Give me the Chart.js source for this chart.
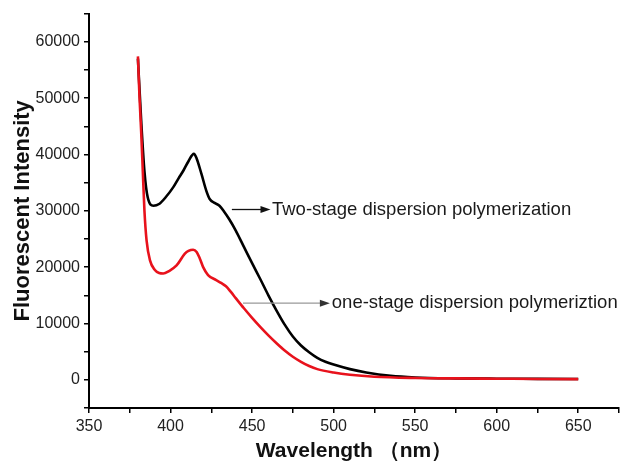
<!DOCTYPE html>
<html>
<head>
<meta charset="utf-8">
<script src="https://cdn.jsdelivr.net/npm/chart.js@4.4.1/dist/chart.umd.min.js"></script>
<style>
  html, body { margin: 0; padding: 0; background: #fff; }
  #wrap { width: 623px; height: 464px; position: relative; }
</style>
</head>
<body>
<div id="wrap"><canvas id="myChart" width="623" height="464"></canvas></div>
<script>
// two-stage dispersion polymerization (black)
var blackX = [380, 382, 384, 386, 389.5, 393, 397, 401.7, 405, 408, 411, 414.3, 416, 419, 422, 424, 427, 430, 433, 436, 440, 445, 450, 455, 460, 465, 470, 475, 480, 485, 490, 495, 500, 510, 520, 535, 550, 575, 600, 625, 650];
var blackY = [57000, 46000, 37000, 32400, 30900, 31200, 32400, 34200, 35800, 37200, 38800, 40100, 39300, 36500, 33500, 32100, 31400, 30900, 29800, 28500, 26500, 23600, 20700, 17900, 15000, 12300, 9800, 7700, 6100, 4900, 3900, 3200, 2700, 1900, 1300, 700, 420, 260, 200, 170, 150];

// one-stage dispersion polymeriztion (red)
var redX = [380, 381, 382, 383, 384, 385.3, 387.4, 390.4, 393, 395.5, 399, 403.7, 408.8, 411, 413.9, 416, 418, 420, 423, 428, 431, 434, 437, 440, 445, 450, 455, 460, 465, 470, 475, 480, 485, 490, 500, 510, 525, 550, 575, 600, 625, 650];
var redY = [57400, 50000, 44000, 37000, 30000, 24750, 21200, 19500, 18950, 18860, 19300, 20300, 22400, 22900, 23100, 22700, 21500, 20000, 18600, 17700, 17200, 16600, 15600, 14500, 12700, 11000, 9400, 7900, 6500, 5200, 4100, 3200, 2450, 1900, 1300, 900, 550, 330, 250, 200, 150, 130];

var xTickLabels = [350, 400, 450, 500, 550, 600, 650];
var yTickLabels = [0, 10000, 20000, 30000, 40000, 50000, 60000];

function toPoints(xs, ys) {
  return xs.map(function (v, i) { return { x: v, y: ys[i] }; });
}

// arrows + notes next to the curves
var notesPlugin = {
  id: 'notes',
  afterDatasetsDraw: function (chart) {
    var ctx = chart.ctx;
    var sx = chart.scales.x, sy = chart.scales.y;
    function arrow(x0, x1, y, lineColor, headColor) {
      ctx.save();
      ctx.strokeStyle = lineColor;
      ctx.lineWidth = 1.3;
      ctx.beginPath();
      ctx.moveTo(x0, y);
      ctx.lineTo(x1 - 8, y);
      ctx.stroke();
      ctx.fillStyle = headColor;
      ctx.beginPath();
      ctx.moveTo(x1, y);
      ctx.lineTo(x1 - 10, y - 3.5);
      ctx.lineTo(x1 - 10, y + 3.5);
      ctx.closePath();
      ctx.fill();
      ctx.restore();
    }
    var y1 = sy.getPixelForValue(30230);
    arrow(sx.getPixelForValue(437.6), sx.getPixelForValue(461.3), y1, '#111', '#111');
    var y2 = sy.getPixelForValue(13600);
    arrow(sx.getPixelForValue(444.4), sx.getPixelForValue(497.7), y2, '#999', '#333');
    ctx.save();
    ctx.fillStyle = '#1a1a1a';
    ctx.font = '18.5px "Liberation Sans", Arial, sans-serif';
    ctx.textBaseline = 'middle';
    ctx.textAlign = 'left';
    ctx.fillText('Two-stage dispersion polymerization', sx.getPixelForValue(462.2), y1);
    ctx.fillText('one-stage dispersion polymeriztion', sx.getPixelForValue(498.9), y2);
    ctx.restore();
  }
};

const data = {
  datasets: [{
    label: 'one-stage dispersion polymeriztion',
    data: toPoints(redX, redY),
    borderColor: 'rgb(232, 18, 28)',
    borderWidth: 2.6,
    pointRadius: 0,
    tension: 0.4,
    cubicInterpolationMode: 'monotone',
    order: 0
  }, {
    label: 'Two-stage dispersion polymerization',
    data: toPoints(blackX, blackY),
    borderColor: '#000',
    borderWidth: 2.6,
    pointRadius: 0,
    tension: 0.4,
    cubicInterpolationMode: 'monotone',
    order: 1
  }]
};

const tickFont = { family: '"Liberation Sans", Arial, sans-serif', size: 16 };

const config = {
  type: 'line',
  data: data,
  options: {
    responsive: false,
    animation: false,
    layout: { padding: { top: 13, right: 3, left: 0, bottom: 0 } },
    plugins: {
      legend: { display: false },
      tooltip: { enabled: false }
    },
    scales: {
      x: {
        type: 'linear',
        min: 350,
        max: 675,
        afterFit: function (s) { s.height = 56; },
        afterBuildTicks: function (s) {
          var t = [];
          for (var v = 350; v <= 675; v += 25) t.push({ value: v });
          s.ticks = t;
        },
        ticks: {
          color: '#222',
          font: tickFont,
          padding: 4,
          maxRotation: 0,
          autoSkip: false,
          callback: function (v) { return xTickLabels.indexOf(v) >= 0 ? String(v) : ''; }
        },
        grid: { drawOnChartArea: false, color: '#000', lineWidth: 1.5, tickLength: 5 },
        border: { color: '#000', width: 2 },
        title: { display: true, text: 'Wavelength （nm）', color: '#111', font: { family: '"Liberation Sans", Arial, sans-serif', size: 21, weight: 'bold' }, padding: { top: 0, bottom: 0 } }
      },
      y: {
        min: -5000,
        max: 65000,
        afterFit: function (s) { s.width = 89; },
        afterBuildTicks: function (s) {
          var t = [];
          for (var v = -5000; v <= 65000; v += 5000) t.push({ value: v });
          s.ticks = t;
        },
        ticks: {
          color: '#222',
          font: tickFont,
          padding: 4,
          autoSkip: false,
          callback: function (v) { return yTickLabels.indexOf(v) >= 0 ? String(v) : ''; }
        },
        grid: { drawOnChartArea: false, color: '#000', lineWidth: 1.5, tickLength: 5 },
        border: { color: '#000', width: 2 },
        title: { display: true, text: 'Fluorescent Intensity', color: '#111', font: { family: '"Liberation Sans", Arial, sans-serif', size: 22, weight: 'bold' }, padding: { top: 10, bottom: 0 } }
      }
    }
  },
  plugins: [notesPlugin]
};

var myChart = new Chart(document.getElementById('myChart'), config);
</script>
</body>
</html>
